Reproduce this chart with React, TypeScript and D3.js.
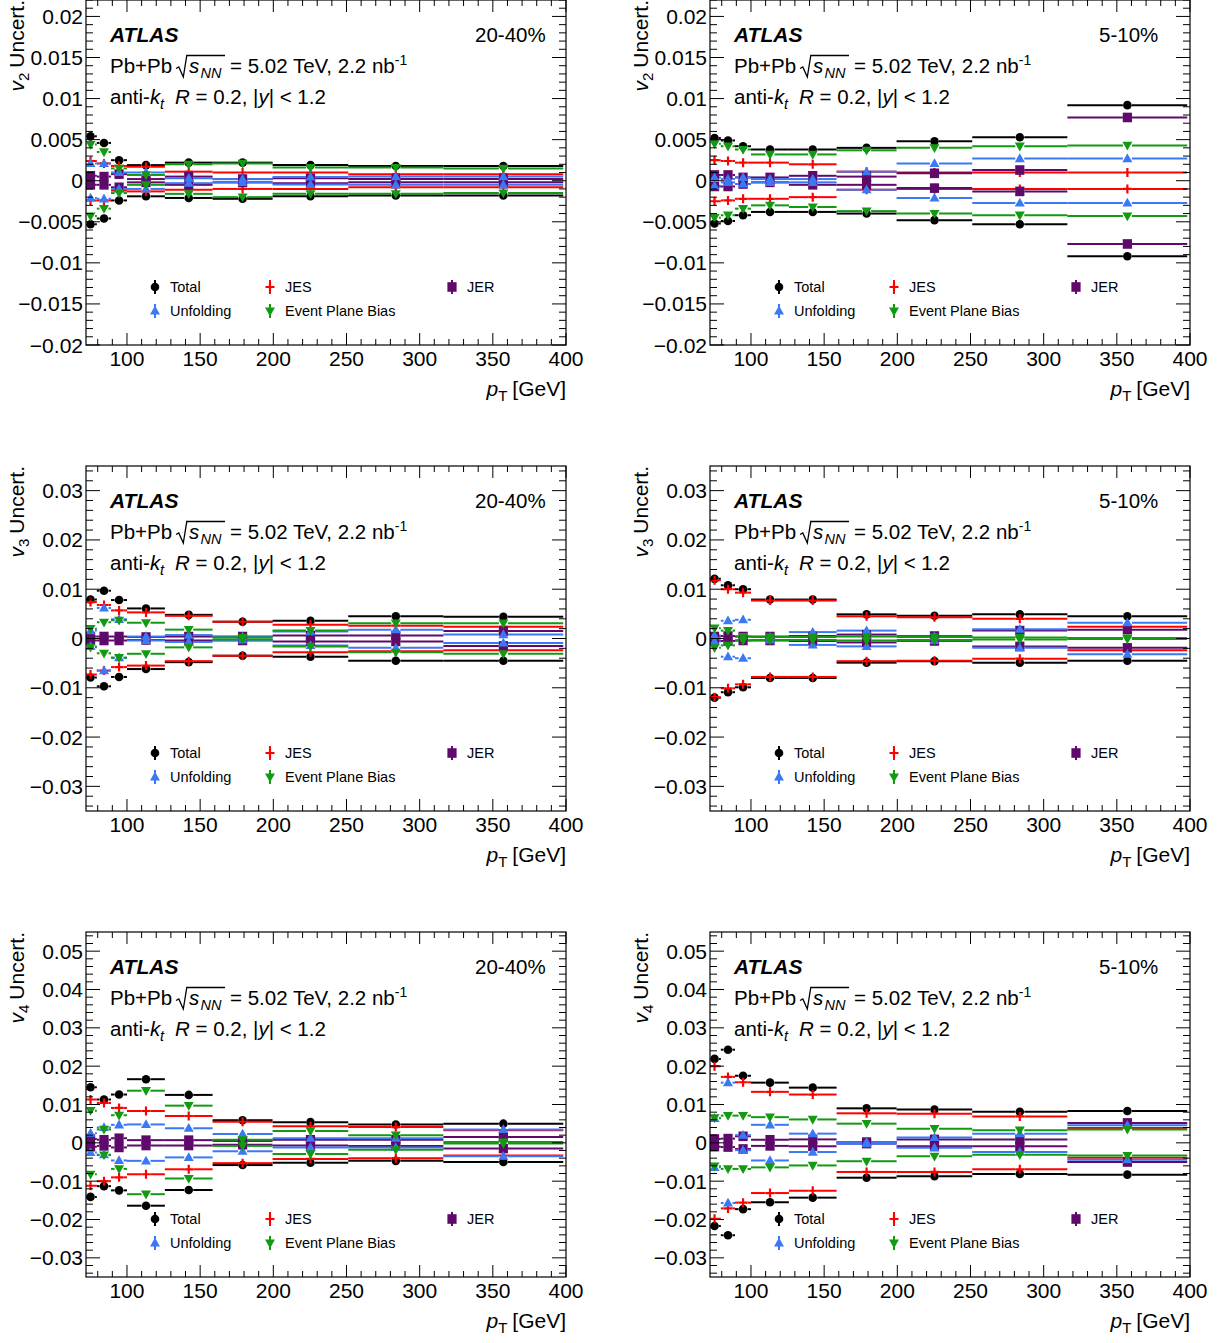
import React from "react";
import * as d3 from "d3";

// ---------------- data ----------------
const binEdges = [70.8, 79.4, 89.1, 100, 125.9, 158.5, 199.5, 251.2, 316.2, 398.1];
const binCenters = [75.1, 84.3, 94.6, 113.0, 142.2, 179.0, 225.4, 283.7, 357.2];

const sourceNames = ["Total", "JES", "JER", "Unfolding", "Event Plane Bias"];
const sourceColors = ["#000000", "#ff0000", "#5f0a6a", "#3b78f5", "#139a13"];
const sourceMarkers = ["circle", "plus", "square", "triUp", "triDown"];

const xTickValues = [100, 150, 200, 250, 300, 350, 400];
const xTickLabels = ["100", "150", "200", "250", "300", "350", "400"];

const yTicksV2 = [-0.02, -0.015, -0.01, -0.005, 0, 0.005, 0.01, 0.015, 0.02];
const yLabelsV2 = ["\u22120.02", "\u22120.015", "\u22120.01", "\u22120.005", "0", "0.005", "0.01", "0.015", "0.02"];
const yTicksV3 = [-0.03, -0.02, -0.01, 0, 0.01, 0.02, 0.03];
const yLabelsV3 = ["\u22120.03", "\u22120.02", "\u22120.01", "0", "0.01", "0.02", "0.03"];
const yTicksV4 = [-0.03, -0.02, -0.01, 0, 0.01, 0.02, 0.03, 0.04, 0.05];
const yLabelsV4 = ["\u22120.03", "\u22120.02", "\u22120.01", "0", "0.01", "0.02", "0.03", "0.04", "0.05"];

// v2, 20-40%
const v2c2040TotalUp = [0.0054, 0.0046, 0.0025, 0.0019, 0.0022, 0.0022, 0.0019, 0.0018, 0.0018];
const v2c2040TotalDn = [-0.0053, -0.0046, -0.0024, -0.0019, -0.0021, -0.0022, -0.0019, -0.0018, -0.0018];
const v2c2040JesUp = [0.0024, 0.0021, 0.0018, 0.0017, 0.0011, 0.0010, 0.0010, 0.0008, 0.0008];
const v2c2040JesDn = [-0.0024, -0.0024, -0.0012, -0.0013, -0.0011, -0.0010, -0.0010, -0.0008, -0.0008];
const v2c2040JerUp = [0.0006, 0.0005, 0.0008, 0.0002, 0.0005, 0.0002, 0.0003, 0.0002, 0.0002];
const v2c2040JerDn = [-0.0005, -0.0005, -0.0008, -0.0002, -0.0005, -0.0002, -0.0003, -0.0002, -0.0002];
const v2c2040UnfUp = [0.0021, 0.0021, 0.0010, 0.0010, 0.0003, 0.0002, 0.00045, 0.0005, 0.0005];
const v2c2040UnfDn = [-0.0021, -0.0022, -0.0010, -0.0010, -0.0003, -0.0002, -0.00045, -0.0005, -0.0005];
const v2c2040EpbUp = [0.0044, 0.0035, 0.0015, 0.0007, 0.0020, 0.0021, 0.0016, 0.0016, 0.0015];
const v2c2040EpbDn = [-0.0043, -0.0034, -0.0015, -0.0005, -0.0016, -0.0020, -0.0016, -0.0016, -0.0015];

// v2, 5-10%
const v2c0510TotalUp = [0.0052, 0.0049, 0.0042, 0.0038, 0.0038, 0.0040, 0.0048, 0.0053, 0.0092];
const v2c0510TotalDn = [-0.0052, -0.0049, -0.0042, -0.0038, -0.0038, -0.0040, -0.0048, -0.0053, -0.0092];
const v2c0510JesUp = [0.0025, 0.0024, 0.0022, 0.0022, 0.0020, 0.0011, 0.0010, 0.0010, 0.0010];
const v2c0510JesDn = [-0.0025, -0.0024, -0.0022, -0.0022, -0.0020, -0.0011, -0.0010, -0.0010, -0.0010];
const v2c0510JerUp = [0.0007, 0.0007, 0.0004, 0.0004, 0.0006, 0.0005, 0.0009, 0.0013, 0.0077];
const v2c0510JerDn = [-0.0007, -0.0007, -0.0004, -0.0002, -0.0005, -0.0005, -0.0009, -0.0013, -0.0077];
const v2c0510UnfUp = [0.0004, 0.0002, 0.0004, 0.0002, 0.0002, 0.0011, 0.0021, 0.0027, 0.0027];
const v2c0510UnfDn = [-0.0006, -0.0002, -0.0004, -0.0002, -0.0002, -0.0011, -0.0021, -0.0027, -0.0027];
const v2c0510EpbUp = [0.0045, 0.0042, 0.0038, 0.0032, 0.0032, 0.0037, 0.0040, 0.0042, 0.0043];
const v2c0510EpbDn = [-0.0045, -0.0042, -0.0034, -0.0030, -0.0032, -0.0037, -0.0040, -0.0042, -0.0043];

// v3, 20-40%
const v3c2040TotalUp = [0.0079, 0.0097, 0.0078, 0.0061, 0.0048, 0.0034, 0.0036, 0.0045, 0.0044];
const v3c2040TotalDn = [-0.0079, -0.0097, -0.0078, -0.0062, -0.0048, -0.0035, -0.0037, -0.0045, -0.0045];
const v3c2040JesUp = [0.0074, 0.0068, 0.0057, 0.0053, 0.0046, 0.0034, 0.0028, 0.0026, 0.0024];
const v3c2040JesDn = [-0.0073, -0.0065, -0.0058, -0.0055, -0.0046, -0.0035, -0.0028, -0.0026, -0.0024];
const v3c2040JerUp = [0.0004, 0.0004, 0.0004, 0.0003, 0.0004, 0.0004, 0.0006, 0.0006, 0.0015];
const v3c2040JerDn = [-0.0004, -0.0004, -0.0004, -0.0003, -0.0004, -0.0004, -0.0006, -0.0006, -0.0015];
const v3c2040UnfUp = [0.0016, 0.0062, 0.0039, 0.0004, 0.0007, 0.0003, 0.0014, 0.0018, 0.0008];
const v3c2040UnfDn = [-0.0016, -0.0065, -0.0039, -0.0004, -0.0007, -0.0003, -0.0014, -0.0019, -0.0009];
const v3c2040EpbUp = [0.0020, 0.0033, 0.0037, 0.0032, 0.0018, 0.0002, 0.0016, 0.0031, 0.0031];
const v3c2040EpbDn = [-0.0018, -0.0030, -0.0039, -0.0031, -0.0018, -0.0002, -0.0016, -0.0028, -0.0031];

// v3, 5-10%
const v3c0510TotalUp = [0.0121, 0.0108, 0.0100, 0.0079, 0.0079, 0.0049, 0.0046, 0.0049, 0.0045];
const v3c0510TotalDn = [-0.0120, -0.0109, -0.0099, -0.0080, -0.0080, -0.0049, -0.0046, -0.0049, -0.0045];
const v3c0510JesUp = [0.0118, 0.0100, 0.0093, 0.0077, 0.0077, 0.0045, 0.0043, 0.0040, 0.0024];
const v3c0510JesDn = [-0.0119, -0.0101, -0.0093, -0.0078, -0.0078, -0.0046, -0.0045, -0.0041, -0.0024];
const v3c0510JerUp = [0.0004, 0.0005, 0.0004, 0.0004, 0.0005, 0.0008, 0.0005, 0.0016, 0.0018];
const v3c0510JerDn = [-0.0004, -0.0005, -0.0004, -0.0004, -0.0005, -0.0008, -0.0005, -0.0016, -0.0019];
const v3c0510UnfUp = [0.0006, 0.0036, 0.0038, 0.0003, 0.0013, 0.0016, 0.0004, 0.0019, 0.0032];
const v3c0510UnfDn = [-0.0006, -0.0037, -0.0040, -0.0003, -0.0013, -0.0016, -0.0004, -0.0019, -0.0032];
const v3c0510EpbUp = [0.0021, 0.0016, 0.0004, 0.0003, 0.0003, 0.0004, 0.0003, 0.0002, 0.0001];
const v3c0510EpbDn = [-0.0019, -0.0014, -0.0004, -0.0003, -0.0003, -0.0004, -0.0003, -0.0002, -0.0001];

// v4, 20-40%
const v4c2040TotalUp = [0.0145, 0.0113, 0.0126, 0.0166, 0.0125, 0.0059, 0.0054, 0.0048, 0.0050];
const v4c2040TotalDn = [-0.0141, -0.0113, -0.0124, -0.0164, -0.0123, -0.0058, -0.0052, -0.0047, -0.0050];
const v4c2040JesUp = [0.0113, 0.0104, 0.0091, 0.0083, 0.0070, 0.0055, 0.0043, 0.0041, 0.0033];
const v4c2040JesDn = [-0.0112, -0.0100, -0.0090, -0.0082, -0.0069, -0.0053, -0.0042, -0.0040, -0.0033];
const v4c2040JerUp = [0.0010, 0.0008, 0.0012, 0.0007, 0.0007, 0.0005, 0.0008, 0.0008, 0.0015];
const v4c2040JerDn = [-0.0010, -0.0008, -0.0012, -0.0007, -0.0007, -0.0005, -0.0007, -0.0008, -0.0015];
const v4c2040UnfUp = [0.0025, 0.0040, 0.0047, 0.0048, 0.0038, 0.0023, 0.0012, 0.0012, 0.0035];
const v4c2040UnfDn = [-0.0025, -0.0031, -0.0046, -0.0047, -0.0038, -0.0022, -0.0012, -0.0012, -0.0035];
const v4c2040EpbUp = [0.0084, 0.0035, 0.0072, 0.0136, 0.0097, 0.0008, 0.0031, 0.0020, 0.0002];
const v4c2040EpbDn = [-0.0082, -0.0032, -0.0068, -0.0134, -0.0093, -0.0008, -0.0029, -0.0018, -0.0002];

// v4, 5-10%
const v4c0510TotalUp = [0.0219, 0.0243, 0.0175, 0.0157, 0.0144, 0.0090, 0.0087, 0.0081, 0.0083];
const v4c0510TotalDn = [-0.0217, -0.0241, -0.0173, -0.0155, -0.0143, -0.0091, -0.0087, -0.0081, -0.0083];
const v4c0510JesUp = [0.0200, 0.0172, 0.0158, 0.0133, 0.0126, 0.0077, 0.0076, 0.0069, 0.0039];
const v4c0510JesDn = [-0.0198, -0.0171, -0.0156, -0.0131, -0.0125, -0.0076, -0.0076, -0.0069, -0.0039];
const v4c0510JerUp = [0.0010, 0.0011, 0.0017, 0.0008, 0.0009, 0.0002, 0.0009, 0.0009, 0.0052];
const v4c0510JerDn = [-0.0010, -0.0011, -0.0016, -0.0008, -0.0009, -0.0002, -0.0009, -0.0009, -0.0050];
const v4c0510UnfUp = [0.0064, 0.0157, 0.0020, 0.0047, 0.0024, 0.0002, 0.0014, 0.0024, 0.0046];
const v4c0510UnfDn = [-0.0064, -0.0157, -0.0019, -0.0046, -0.0024, -0.0002, -0.0013, -0.0024, -0.0044];
const v4c0510EpbUp = [0.0065, 0.0071, 0.0071, 0.0067, 0.0061, 0.0050, 0.0037, 0.0033, 0.0035];
const v4c0510EpbDn = [-0.0061, -0.0068, -0.0068, -0.0064, -0.0059, -0.0048, -0.0035, -0.0031, -0.0033];

// ---------------- layout ----------------
const W = 1231;
const H = 1343;
const colLeft = [86, 710];
const rowTop = [0, 466, 932];
const frameW = 480;
const frameH = 345;
const xDomain = [72, 400];
const FONT = "'Liberation Sans', Arial, Helvetica, sans-serif";

const panels = [
  { row: 0, col: 0, harm: "2", cent: "20-40%", yDomain: [-0.02, 0.022], yTicks: yTicksV2, yLabels: yLabelsV2, minor: 0.001,
    series: [[v2c2040TotalUp, v2c2040TotalDn], [v2c2040JesUp, v2c2040JesDn], [v2c2040JerUp, v2c2040JerDn], [v2c2040UnfUp, v2c2040UnfDn], [v2c2040EpbUp, v2c2040EpbDn]] },
  { row: 0, col: 1, harm: "2", cent: "5-10%", yDomain: [-0.02, 0.022], yTicks: yTicksV2, yLabels: yLabelsV2, minor: 0.001,
    series: [[v2c0510TotalUp, v2c0510TotalDn], [v2c0510JesUp, v2c0510JesDn], [v2c0510JerUp, v2c0510JerDn], [v2c0510UnfUp, v2c0510UnfDn], [v2c0510EpbUp, v2c0510EpbDn]] },
  { row: 1, col: 0, harm: "3", cent: "20-40%", yDomain: [-0.035, 0.035], yTicks: yTicksV3, yLabels: yLabelsV3, minor: 0.002,
    series: [[v3c2040TotalUp, v3c2040TotalDn], [v3c2040JesUp, v3c2040JesDn], [v3c2040JerUp, v3c2040JerDn], [v3c2040UnfUp, v3c2040UnfDn], [v3c2040EpbUp, v3c2040EpbDn]] },
  { row: 1, col: 1, harm: "3", cent: "5-10%", yDomain: [-0.035, 0.035], yTicks: yTicksV3, yLabels: yLabelsV3, minor: 0.002,
    series: [[v3c0510TotalUp, v3c0510TotalDn], [v3c0510JesUp, v3c0510JesDn], [v3c0510JerUp, v3c0510JerDn], [v3c0510UnfUp, v3c0510UnfDn], [v3c0510EpbUp, v3c0510EpbDn]] },
  { row: 2, col: 0, harm: "4", cent: "20-40%", yDomain: [-0.035, 0.055], yTicks: yTicksV4, yLabels: yLabelsV4, minor: 0.002,
    series: [[v4c2040TotalUp, v4c2040TotalDn], [v4c2040JesUp, v4c2040JesDn], [v4c2040JerUp, v4c2040JerDn], [v4c2040UnfUp, v4c2040UnfDn], [v4c2040EpbUp, v4c2040EpbDn]] },
  { row: 2, col: 1, harm: "4", cent: "5-10%", yDomain: [-0.035, 0.055], yTicks: yTicksV4, yLabels: yLabelsV4, minor: 0.002,
    series: [[v4c0510TotalUp, v4c0510TotalDn], [v4c0510JesUp, v4c0510JesDn], [v4c0510JerUp, v4c0510JerDn], [v4c0510UnfUp, v4c0510UnfDn], [v4c0510EpbUp, v4c0510EpbDn]] },
];

function Marker({ type, x, y, color }: { type: string; x: number; y: number; color: string }) {
  if (type === "circle") return <circle cx={x} cy={y} r={4.3} fill={color} />;
  if (type === "square") return <rect x={x - 4.6} y={y - 4.8} width={9.2} height={9.6} fill={color} />;
  if (type === "triUp") return <path d={`M${x},${y - 5.2}L${x + 5},${y + 3.6}L${x - 5},${y + 3.6}Z`} fill={color} />;
  if (type === "triDown") return <path d={`M${x},${y + 5.2}L${x + 5},${y - 3.6}L${x - 5},${y - 3.6}Z`} fill={color} />;
  return <path d={`M${x - 4.5},${y}H${x + 4.5}M${x},${y - 4.5}V${y + 4.5}`} stroke={color} strokeWidth={2.2} fill="none" />;
}

function Panel({ cfg }: { cfg: any }) {
  const left = colLeft[cfg.col];
  const top = rowTop[cfg.row];
  const right = left + frameW;
  const bottom = top + frameH;
  const x = d3.scaleLinear().domain(xDomain).range([left, right]);
  const y = d3.scaleLinear().domain(cfg.yDomain).range([bottom, top]);
  const clipId = `clip-${cfg.row}-${cfg.col}`;

  const xMinor = d3.range(80, 401, 10).filter((v) => v % 50 !== 0);
  const nLo = Math.ceil(cfg.yDomain[0] / cfg.minor - 1e-6);
  const nHi = Math.floor(cfg.yDomain[1] / cfg.minor + 1e-6);
  const yMinor = d3.range(nLo, nHi + 1).map((i) => i * cfg.minor)
    .filter((v) => !cfg.yTicks.some((t: number) => Math.abs(t - v) < 1e-7));

  const gap = 4.5;
  const tx = left + 24;
  const B2 = top + 73;
  const FS = 20.5;

  const legendCols = [69, 184, 366];
  const legendRows = [287, 311];
  const legendSlots = [
    [0, 0, 0], // Total
    [1, 1, 0], // JES
    [2, 2, 0], // JER
    [3, 0, 1], // Unfolding
    [4, 1, 1], // EPB
  ];

  return (
    <g>
      <defs>
        <clipPath id={clipId}>
          <rect x={left} y={top} width={frameW} height={frameH} />
        </clipPath>
      </defs>
      {/* data */}
      <g clipPath={`url(#${clipId})`}>
        {cfg.series.map((pair: number[][], s: number) => (
          <g key={s}>
            {pair.map((vals: number[], k: number) =>
              vals.map((v: number, i: number) => {
                const xl = x(binEdges[i]);
                const xr = x(binEdges[i + 1]);
                const xc = x(binCenters[i]);
                const yy = y(v);
                return (
                  <g key={`${k}-${i}`}>
                    <line x1={xl} x2={Math.max(xl, xc - gap)} y1={yy} y2={yy} stroke={sourceColors[s]} strokeWidth={2} />
                    <line x1={Math.min(xr, xc + gap)} x2={xr} y1={yy} y2={yy} stroke={sourceColors[s]} strokeWidth={2} />
                    <Marker type={sourceMarkers[s]} x={xc} y={yy} color={sourceColors[s]} />
                  </g>
                );
              })
            )}
          </g>
        ))}
      </g>
      {/* frame */}
      <rect x={left} y={top} width={frameW} height={frameH} fill="none" stroke="#000" strokeWidth={1.2} />
      {/* x ticks */}
      {xTickValues.map((v) => (
        <g key={`xt${v}`}>
          <line x1={x(v)} x2={x(v)} y1={bottom} y2={bottom - 12} stroke="#000" />
          <line x1={x(v)} x2={x(v)} y1={top} y2={top + 12} stroke="#000" />
        </g>
      ))}
      {xMinor.map((v) => (
        <g key={`xm${v}`}>
          <line x1={x(v)} x2={x(v)} y1={bottom} y2={bottom - 6} stroke="#000" />
          <line x1={x(v)} x2={x(v)} y1={top} y2={top + 6} stroke="#000" />
        </g>
      ))}
      {xTickValues.map((v, i) => (
        <text key={`xl${v}`} x={x(v)} y={bottom + 21} textAnchor="middle" fontSize={21} fontFamily={FONT}>
          {xTickLabels[i]}
        </text>
      ))}
      {/* y ticks */}
      {cfg.yTicks.map((v: number, i: number) => (
        <g key={`yt${i}`}>
          <line x1={left} x2={left + 14} y1={y(v)} y2={y(v)} stroke="#000" />
          <line x1={right} x2={right - 14} y1={y(v)} y2={y(v)} stroke="#000" />
          <text x={left - 3} y={y(v) + 7.5} textAnchor="end" fontSize={21} fontFamily={FONT}>
            {cfg.yLabels[i]}
          </text>
        </g>
      ))}
      {yMinor.map((v: number, i: number) => (
        <g key={`ym${i}`}>
          <line x1={left} x2={left + 7} y1={y(v)} y2={y(v)} stroke="#000" />
          <line x1={right} x2={right - 7} y1={y(v)} y2={y(v)} stroke="#000" />
        </g>
      ))}
      {/* axis titles */}
      <text x={right} y={bottom + 51} textAnchor="end" fontSize={21} fontFamily={FONT}>
        <tspan fontStyle="italic">p</tspan>
        <tspan fontSize={15} dy={5}>T</tspan>
        <tspan dy={-5} dx={5}>[GeV]</tspan>
      </text>
      <text transform={`translate(${left - 62},${top}) rotate(-90)`} textAnchor="end" fontSize={21} fontFamily={FONT}>
        <tspan fontStyle="italic">v</tspan>
        <tspan fontSize={15} dy={5}>{cfg.harm}</tspan>
        <tspan dy={-5} dx={5}>Uncert.</tspan>
      </text>
      {/* labels */}
      <text x={tx} y={top + 42} fontSize={21} fontWeight="bold" fontStyle="italic" fontFamily={FONT}>ATLAS</text>
      <text x={left + 389} y={top + 42} fontSize={FS} fontFamily={FONT}>{cfg.cent}</text>
      <text x={tx} y={B2} fontSize={FS} fontFamily={FONT}>Pb+Pb</text>
      <path d={`M${tx + 66},${B2 - 4.5}L${tx + 68.8},${B2 - 6}L${tx + 73.3},${B2 + 4}L${tx + 76.8},${B2 - 17.5}L${tx + 115},${B2 - 17.5}`}
        fill="none" stroke="#000" strokeWidth={1.3} />
      <text x={tx + 79} y={B2} fontSize={FS} fontStyle="italic" fontFamily={FONT}>s</text>
      <text x={tx + 90.5} y={B2 + 5} fontSize={14.5} fontStyle="italic" fontFamily={FONT}>NN</text>
      <text x={tx + 120} y={B2} fontSize={FS} fontFamily={FONT}>
        {"= 5.02 TeV, 2.2 nb"}
        <tspan fontSize={14} dy={-8}>-1</tspan>
      </text>
      <text x={tx} y={top + 104} fontSize={FS} fontFamily={FONT}>
        anti-<tspan fontStyle="italic">k</tspan>
      </text>
      <text x={tx + 50} y={top + 109} fontSize={14.5} fontStyle="italic" fontFamily={FONT}>t</text>
      <text x={tx + 65} y={top + 104} fontSize={FS} fontFamily={FONT}>
        <tspan fontStyle="italic">R</tspan>
        {" = 0.2, |"}
        <tspan fontStyle="italic">y</tspan>
        {"| < 1.2"}
      </text>
      {/* legend */}
      {legendSlots.map(([s, c, r]) => {
        const mx = left + legendCols[c];
        const my = top + legendRows[r];
        return (
          <g key={`lg${s}`}>
            <line x1={mx} x2={mx} y1={my - 7} y2={my + 7} stroke={sourceColors[s]} strokeWidth={2} />
            <Marker type={sourceMarkers[s]} x={mx} y={my} color={sourceColors[s]} />
            <text x={mx + 15} y={my + 5.3} fontSize={14.5} fontFamily={FONT}>{sourceNames[s]}</text>
          </g>
        );
      })}
    </g>
  );
}

export default function App() {
  return (
    <svg width={W} height={H} viewBox={`0 0 ${W} ${H}`} style={{ position: "absolute", left: 0, top: 0, background: "#fff" }}>
      <rect x={0} y={0} width={W} height={H} fill="#fff" />
      {panels.map((p, i) => (
        <Panel key={i} cfg={p} />
      ))}
    </svg>
  );
}
